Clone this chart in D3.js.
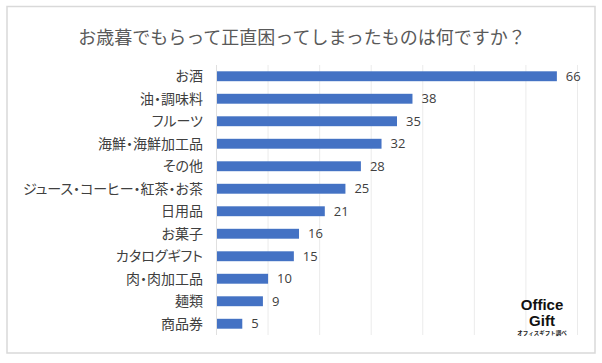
<!DOCTYPE html>
<html><head><meta charset="utf-8">
<script src="https://cdn.jsdelivr.net/npm/d3@7"></script>
<style>
html,body{margin:0;padding:0;background:#fff;}
text{font-family:"Noto Sans CJK JP","Noto Sans",sans-serif;}
.cat{font-feature-settings:"palt";}
</style></head>
<body><svg id="chart" width="602" height="363"></svg>
<script>
const categories = ["お酒","油・調味料","フルーツ","海鮮・海鮮加工品","その他","ジュース・コーヒー・紅茶・お茶","日用品","お菓子","カタログギフト","肉・肉加工品","麺類","商品券"];
const values = [66,38,35,32,28,25,21,16,15,10,9,5];
const gridTicks = [0,10,20,30,40,50,60,70];
const title = "お歳暮でもらって正直困ってしまったものは何ですか？";

const svg = d3.select("#chart");
svg.append("rect").attr("x",7).attr("y",6.5).attr("width",588).attr("height",346.5)
  .attr("fill","#fff").attr("stroke","#d9d9d9").attr("stroke-width",1.5);

svg.append("text").attr("x",302).attr("y",44).attr("text-anchor","middle")
  .attr("font-size",18).attr("fill","#595959").text(title);

const x = d3.scaleLinear().domain([0,70]).range([216.5,577.5]);
const y = d3.scaleBand().domain(categories).range([65,335]).paddingInner(0.56).paddingOuter(0.28);

svg.append("g").selectAll("line").data(gridTicks.slice(1)).join("line")
  .attr("x1",d=>x(d)).attr("x2",d=>x(d)).attr("y1",65).attr("y2",335)
  .attr("stroke","#ebebeb").attr("stroke-width",1);

svg.append("g").selectAll("rect").data(values).join("rect")
  .attr("x",x(0)).attr("y",(d,i)=>y(categories[i]))
  .attr("width",d=>x(d)-x(0)).attr("height",y.bandwidth())
  .attr("fill","#4472C4");

svg.append("line").attr("x1",x(0)).attr("x2",x(0)).attr("y1",65).attr("y2",335)
  .attr("stroke","#e0e0e0");

svg.append("g").selectAll("text").data(categories).join("text")
  .attr("class","cat")
  .attr("x",203).attr("y",d=>y(d)+y.bandwidth()/2).attr("dy","0.36em")
  .attr("text-anchor","end").attr("font-size",14).attr("fill","#404040").text(d=>d);

svg.append("g").selectAll("text").data(values).join("text")
  .attr("x",d=>x(d)+9).attr("y",(d,i)=>y(categories[i])+y.bandwidth()/2).attr("dy","0.36em")
  .attr("font-size",13).attr("fill","#404040")
  .style("font-family","'Open Sans','Noto Sans',sans-serif").text(d=>d);

const logo = svg.append("g");
logo.append("text").attr("x",542).attr("y",310).attr("text-anchor","middle")
  .attr("font-size",15).attr("font-weight","bold").attr("fill","#111")
  .style("font-family","'Liberation Sans',Arial,sans-serif").text("Office");
logo.append("text").attr("x",542).attr("y",326).attr("text-anchor","middle")
  .attr("font-size",15).attr("font-weight","bold").attr("fill","#111")
  .style("font-family","'Liberation Sans',Arial,sans-serif").text("Gift");
logo.append("text").attr("x",542).attr("y",335).attr("text-anchor","middle")
  .attr("font-size",5.5).attr("font-weight","bold").attr("fill","#222").text("オフィスギフト調べ");
</script></body></html>
